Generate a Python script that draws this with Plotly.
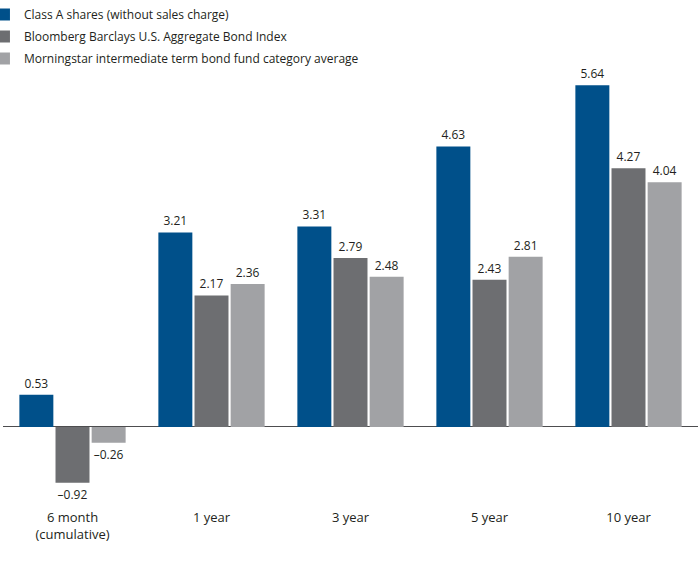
import plotly.graph_objects as go

categories = ["6 month<br>(cumulative)", "1 year", "3 year", "5 year", "10 year"]
class_a = [0.53, 3.21, 3.31, 4.63, 5.64]
bloomberg = [-0.92, 2.17, 2.79, 2.43, 4.27]
morningstar = [-0.26, 2.36, 2.48, 2.81, 4.04]

series_names = [
    "Class A shares (without sales charge)",
    "Bloomberg Barclays U.S. Aggregate Bond Index",
    "Morningstar intermediate term bond fund category average",
]
colors = ["#00508a", "#6d6e71", "#a1a2a5"]

FONT = "Open Sans"


def fmt(v):
    s = f"{abs(v):.2f}"
    return ("\u2013" + s) if v < 0 else s


fig = go.Figure()
for i, (name, vals, col) in enumerate(zip(series_names, [class_a, bloomberg, morningstar], colors)):
    fig.add_trace(go.Bar(
        name=name,
        legendgroup=f"g{i}",
        x=categories,
        y=vals,
        marker=dict(color=col, line=dict(width=0)),
        text=[fmt(v) for v in vals],
        textposition="outside",
        textfont=dict(family=FONT, size=12, color="#231f20"),
        cliponaxis=False,
        hoverinfo="skip",
    ))

fig.update_layout(
    width=700,
    height=574,
    paper_bgcolor="white",
    plot_bgcolor="white",
    barmode="group",
    bargap=0.22,
    bargroupgap=0.06,
    margin=dict(l=3, r=2, t=80, b=74, autoexpand=False),
    font=dict(family=FONT, size=12, color="#231f20"),
    legend=dict(
        x=-0.0274, xref="paper", y=1.03, yref="container",
        xanchor="left", yanchor="top",
        font=dict(family=FONT, size=12, color="#231f20"),
        bgcolor="rgba(0,0,0,0)",
        tracegroupgap=3,
        itemclick=False,
    ),
    showlegend=True,
)
fig.update_xaxes(
    showgrid=False, showline=False, zeroline=False, ticks="",
    tickfont=dict(family=FONT, size=13, color="#231f20"),
    ticklabelstandoff=8,
)
fig.update_yaxes(
    range=[-1.205, 5.726],
    showgrid=False, showticklabels=False, ticks="",
    zeroline=True, zerolinecolor="#4d4d4f", zerolinewidth=1,
    showline=False,
)

fig.write_html(
    "out.html",
    config={"displayModeBar": False},
    post_script="document.body.style.margin='0';document.body.style.overflow='hidden';",
)
